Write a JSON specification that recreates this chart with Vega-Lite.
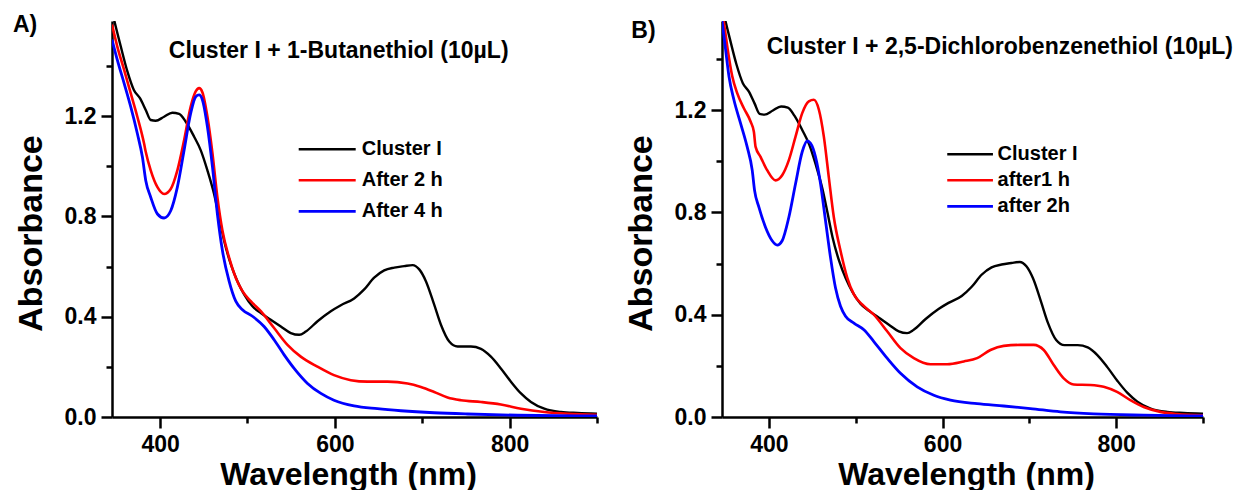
{
  "$schema": "https://vega.github.io/schema/vega-lite/v6.json",
  "background": "white",
  "padding": {"left": 12, "top": 13, "right": 5, "bottom": 0},
  "spacing": 25,
  "config": {
    "view": {"stroke": null},
    "font": "Liberation Sans",
    "axis": {
      "grid": false,
      "domainColor": "black",
      "domainWidth": 2.5,
      "tickColor": "black",
      "tickWidth": 2.5,
      "labelFont": "Liberation Sans",
      "labelFontWeight": "bold",
      "labelFontSize": 23,
      "labelColor": "black",
      "labelPadding": 5,
      "titleFont": "Liberation Sans",
      "titleFontWeight": "bold",
      "titleColor": "black"
    },
    "legend": {
      "title": null,
      "orient": "none",
      "symbolType": "stroke",
      "symbolStrokeWidth": 3,
      "clipHeight": 20,
      "labelFont": "Liberation Sans",
      "labelFontWeight": "bold",
      "labelFontSize": 20,
      "labelColor": "black",
      "padding": 0
    }
  },
  "datasets": {
    "specA": [
      {"series": "Cluster I", "nm": 345, "abs": 1.62},
      {"series": "Cluster I", "nm": 347.3, "abs": 1.586},
      {"series": "Cluster I", "nm": 355, "abs": 1.479},
      {"series": "Cluster I", "nm": 362.6, "abs": 1.379},
      {"series": "Cluster I", "nm": 370, "abs": 1.305},
      {"series": "Cluster I", "nm": 377, "abs": 1.272},
      {"series": "Cluster I", "nm": 383.6, "abs": 1.225},
      {"series": "Cluster I", "nm": 389.3, "abs": 1.185},
      {"series": "Cluster I", "nm": 395, "abs": 1.182},
      {"series": "Cluster I", "nm": 404.6, "abs": 1.198},
      {"series": "Cluster I", "nm": 414, "abs": 1.214},
      {"series": "Cluster I", "nm": 421.8, "abs": 1.209},
      {"series": "Cluster I", "nm": 429.4, "abs": 1.178},
      {"series": "Cluster I", "nm": 439, "abs": 1.118},
      {"series": "Cluster I", "nm": 446.6, "abs": 1.064},
      {"series": "Cluster I", "nm": 454.2, "abs": 0.984},
      {"series": "Cluster I", "nm": 461.8, "abs": 0.89},
      {"series": "Cluster I", "nm": 467.6, "abs": 0.797},
      {"series": "Cluster I", "nm": 473.3, "abs": 0.703},
      {"series": "Cluster I", "nm": 481, "abs": 0.609},
      {"series": "Cluster I", "nm": 488.5, "abs": 0.542},
      {"series": "Cluster I", "nm": 496.2, "abs": 0.489},
      {"series": "Cluster I", "nm": 505.7, "abs": 0.442},
      {"series": "Cluster I", "nm": 515.3, "abs": 0.415},
      {"series": "Cluster I", "nm": 526.7, "abs": 0.388},
      {"series": "Cluster I", "nm": 538.2, "abs": 0.361},
      {"series": "Cluster I", "nm": 549.6, "abs": 0.335},
      {"series": "Cluster I", "nm": 559.2, "abs": 0.328},
      {"series": "Cluster I", "nm": 566.8, "abs": 0.341},
      {"series": "Cluster I", "nm": 580.2, "abs": 0.382},
      {"series": "Cluster I", "nm": 595.4, "abs": 0.422},
      {"series": "Cluster I", "nm": 606.9, "abs": 0.446},
      {"series": "Cluster I", "nm": 622.1, "abs": 0.473},
      {"series": "Cluster I", "nm": 633.6, "abs": 0.509},
      {"series": "Cluster I", "nm": 645, "abs": 0.556},
      {"series": "Cluster I", "nm": 656.5, "abs": 0.585},
      {"series": "Cluster I", "nm": 668, "abs": 0.596},
      {"series": "Cluster I", "nm": 679.4, "abs": 0.602},
      {"series": "Cluster I", "nm": 689, "abs": 0.606},
      {"series": "Cluster I", "nm": 696.6, "abs": 0.589},
      {"series": "Cluster I", "nm": 704.2, "abs": 0.542},
      {"series": "Cluster I", "nm": 713.7, "abs": 0.448},
      {"series": "Cluster I", "nm": 721.4, "abs": 0.368},
      {"series": "Cluster I", "nm": 730.9, "abs": 0.301},
      {"series": "Cluster I", "nm": 740.5, "abs": 0.281},
      {"series": "Cluster I", "nm": 755.7, "abs": 0.281},
      {"series": "Cluster I", "nm": 767.2, "abs": 0.272},
      {"series": "Cluster I", "nm": 778.6, "abs": 0.241},
      {"series": "Cluster I", "nm": 790, "abs": 0.194},
      {"series": "Cluster I", "nm": 801.5, "abs": 0.141},
      {"series": "Cluster I", "nm": 813, "abs": 0.094},
      {"series": "Cluster I", "nm": 824.4, "abs": 0.06},
      {"series": "Cluster I", "nm": 839.7, "abs": 0.033},
      {"series": "Cluster I", "nm": 858.8, "abs": 0.02},
      {"series": "Cluster I", "nm": 877.9, "abs": 0.016},
      {"series": "Cluster I", "nm": 900, "abs": 0.013},
      {"series": "After 2 h", "nm": 345, "abs": 1.566},
      {"series": "After 2 h", "nm": 351, "abs": 1.479},
      {"series": "After 2 h", "nm": 358.8, "abs": 1.386},
      {"series": "After 2 h", "nm": 366.4, "abs": 1.292},
      {"series": "After 2 h", "nm": 374, "abs": 1.198},
      {"series": "After 2 h", "nm": 381.7, "abs": 1.091},
      {"series": "After 2 h", "nm": 383.6, "abs": 1.058},
      {"series": "After 2 h", "nm": 389.3, "abs": 0.984},
      {"series": "After 2 h", "nm": 397, "abs": 0.917},
      {"series": "After 2 h", "nm": 404.6, "abs": 0.89},
      {"series": "After 2 h", "nm": 412.2, "abs": 0.91},
      {"series": "After 2 h", "nm": 419.8, "abs": 0.984},
      {"series": "After 2 h", "nm": 427.5, "abs": 1.104},
      {"series": "After 2 h", "nm": 435, "abs": 1.238},
      {"series": "After 2 h", "nm": 440.8, "abs": 1.299},
      {"series": "After 2 h", "nm": 444.7, "abs": 1.312},
      {"series": "After 2 h", "nm": 448.5, "abs": 1.295},
      {"series": "After 2 h", "nm": 454.2, "abs": 1.198},
      {"series": "After 2 h", "nm": 460, "abs": 1.051},
      {"series": "After 2 h", "nm": 465.6, "abs": 0.877},
      {"series": "After 2 h", "nm": 471.4, "abs": 0.743},
      {"series": "After 2 h", "nm": 479, "abs": 0.636},
      {"series": "After 2 h", "nm": 486.6, "abs": 0.556},
      {"series": "After 2 h", "nm": 494.3, "abs": 0.502},
      {"series": "After 2 h", "nm": 503.8, "abs": 0.462},
      {"series": "After 2 h", "nm": 515.3, "abs": 0.422},
      {"series": "After 2 h", "nm": 530.5, "abs": 0.355},
      {"series": "After 2 h", "nm": 545.8, "abs": 0.288},
      {"series": "After 2 h", "nm": 561, "abs": 0.241},
      {"series": "After 2 h", "nm": 580, "abs": 0.201},
      {"series": "After 2 h", "nm": 599, "abs": 0.167},
      {"series": "After 2 h", "nm": 618.3, "abs": 0.147},
      {"series": "After 2 h", "nm": 637.4, "abs": 0.141},
      {"series": "After 2 h", "nm": 660.3, "abs": 0.141},
      {"series": "After 2 h", "nm": 683.2, "abs": 0.134},
      {"series": "After 2 h", "nm": 698.5, "abs": 0.12},
      {"series": "After 2 h", "nm": 713.7, "abs": 0.1},
      {"series": "After 2 h", "nm": 729, "abs": 0.078},
      {"series": "After 2 h", "nm": 744.3, "abs": 0.067},
      {"series": "After 2 h", "nm": 767.2, "abs": 0.06},
      {"series": "After 2 h", "nm": 790, "abs": 0.05},
      {"series": "After 2 h", "nm": 813, "abs": 0.033},
      {"series": "After 2 h", "nm": 839.7, "abs": 0.02},
      {"series": "After 2 h", "nm": 866.4, "abs": 0.013},
      {"series": "After 2 h", "nm": 900, "abs": 0.009},
      {"series": "After 4 h", "nm": 345, "abs": 1.506},
      {"series": "After 4 h", "nm": 351, "abs": 1.426},
      {"series": "After 4 h", "nm": 358.8, "abs": 1.332},
      {"series": "After 4 h", "nm": 366.4, "abs": 1.238},
      {"series": "After 4 h", "nm": 374, "abs": 1.131},
      {"series": "After 4 h", "nm": 379.8, "abs": 1.037},
      {"series": "After 4 h", "nm": 383.6, "abs": 0.944},
      {"series": "After 4 h", "nm": 389.3, "abs": 0.877},
      {"series": "After 4 h", "nm": 397, "abs": 0.81},
      {"series": "After 4 h", "nm": 404.6, "abs": 0.794},
      {"series": "After 4 h", "nm": 412.2, "abs": 0.823},
      {"series": "After 4 h", "nm": 419.8, "abs": 0.917},
      {"series": "After 4 h", "nm": 427.5, "abs": 1.064},
      {"series": "After 4 h", "nm": 435, "abs": 1.211},
      {"series": "After 4 h", "nm": 440.8, "abs": 1.278},
      {"series": "After 4 h", "nm": 444.7, "abs": 1.285},
      {"series": "After 4 h", "nm": 448.5, "abs": 1.265},
      {"series": "After 4 h", "nm": 454.2, "abs": 1.158},
      {"series": "After 4 h", "nm": 460, "abs": 0.997},
      {"series": "After 4 h", "nm": 465.6, "abs": 0.81},
      {"series": "After 4 h", "nm": 471.4, "abs": 0.663},
      {"series": "After 4 h", "nm": 479, "abs": 0.542},
      {"series": "After 4 h", "nm": 486.6, "abs": 0.462},
      {"series": "After 4 h", "nm": 494.3, "abs": 0.428},
      {"series": "After 4 h", "nm": 505.7, "abs": 0.402},
      {"series": "After 4 h", "nm": 519, "abs": 0.361},
      {"series": "After 4 h", "nm": 530.5, "abs": 0.308},
      {"series": "After 4 h", "nm": 542, "abs": 0.248},
      {"series": "After 4 h", "nm": 553.4, "abs": 0.194},
      {"series": "After 4 h", "nm": 568.7, "abs": 0.134},
      {"series": "After 4 h", "nm": 584, "abs": 0.094},
      {"series": "After 4 h", "nm": 599, "abs": 0.067},
      {"series": "After 4 h", "nm": 622, "abs": 0.044},
      {"series": "After 4 h", "nm": 648.8, "abs": 0.033},
      {"series": "After 4 h", "nm": 675.6, "abs": 0.025},
      {"series": "After 4 h", "nm": 713.7, "abs": 0.017},
      {"series": "After 4 h", "nm": 751.9, "abs": 0.012},
      {"series": "After 4 h", "nm": 809, "abs": 0.007},
      {"series": "After 4 h", "nm": 900, "abs": 0.004}
    ],
    "specB": [
      {"series": "Cluster I", "nm": 345, "abs": 1.62},
      {"series": "Cluster I", "nm": 347.3, "abs": 1.586},
      {"series": "Cluster I", "nm": 355, "abs": 1.479},
      {"series": "Cluster I", "nm": 362.6, "abs": 1.379},
      {"series": "Cluster I", "nm": 370, "abs": 1.305},
      {"series": "Cluster I", "nm": 377, "abs": 1.272},
      {"series": "Cluster I", "nm": 383.6, "abs": 1.225},
      {"series": "Cluster I", "nm": 389.3, "abs": 1.185},
      {"series": "Cluster I", "nm": 395, "abs": 1.182},
      {"series": "Cluster I", "nm": 404.6, "abs": 1.198},
      {"series": "Cluster I", "nm": 414, "abs": 1.214},
      {"series": "Cluster I", "nm": 421.8, "abs": 1.209},
      {"series": "Cluster I", "nm": 429.4, "abs": 1.178},
      {"series": "Cluster I", "nm": 439, "abs": 1.118},
      {"series": "Cluster I", "nm": 446.6, "abs": 1.064},
      {"series": "Cluster I", "nm": 454.2, "abs": 0.984},
      {"series": "Cluster I", "nm": 461.8, "abs": 0.89},
      {"series": "Cluster I", "nm": 467.6, "abs": 0.797},
      {"series": "Cluster I", "nm": 473.3, "abs": 0.703},
      {"series": "Cluster I", "nm": 481, "abs": 0.609},
      {"series": "Cluster I", "nm": 488.5, "abs": 0.542},
      {"series": "Cluster I", "nm": 496.2, "abs": 0.489},
      {"series": "Cluster I", "nm": 505.7, "abs": 0.442},
      {"series": "Cluster I", "nm": 515.3, "abs": 0.415},
      {"series": "Cluster I", "nm": 526.7, "abs": 0.388},
      {"series": "Cluster I", "nm": 538.2, "abs": 0.361},
      {"series": "Cluster I", "nm": 549.6, "abs": 0.335},
      {"series": "Cluster I", "nm": 559.2, "abs": 0.328},
      {"series": "Cluster I", "nm": 566.8, "abs": 0.341},
      {"series": "Cluster I", "nm": 580.2, "abs": 0.382},
      {"series": "Cluster I", "nm": 595.4, "abs": 0.422},
      {"series": "Cluster I", "nm": 606.9, "abs": 0.446},
      {"series": "Cluster I", "nm": 622.1, "abs": 0.473},
      {"series": "Cluster I", "nm": 633.6, "abs": 0.509},
      {"series": "Cluster I", "nm": 645, "abs": 0.556},
      {"series": "Cluster I", "nm": 656.5, "abs": 0.585},
      {"series": "Cluster I", "nm": 668, "abs": 0.596},
      {"series": "Cluster I", "nm": 679.4, "abs": 0.602},
      {"series": "Cluster I", "nm": 689, "abs": 0.606},
      {"series": "Cluster I", "nm": 696.6, "abs": 0.589},
      {"series": "Cluster I", "nm": 704.2, "abs": 0.542},
      {"series": "Cluster I", "nm": 713.7, "abs": 0.448},
      {"series": "Cluster I", "nm": 721.4, "abs": 0.368},
      {"series": "Cluster I", "nm": 730.9, "abs": 0.301},
      {"series": "Cluster I", "nm": 740.5, "abs": 0.281},
      {"series": "Cluster I", "nm": 755.7, "abs": 0.281},
      {"series": "Cluster I", "nm": 767.2, "abs": 0.272},
      {"series": "Cluster I", "nm": 778.6, "abs": 0.241},
      {"series": "Cluster I", "nm": 790, "abs": 0.194},
      {"series": "Cluster I", "nm": 801.5, "abs": 0.141},
      {"series": "Cluster I", "nm": 813, "abs": 0.094},
      {"series": "Cluster I", "nm": 824.4, "abs": 0.06},
      {"series": "Cluster I", "nm": 839.7, "abs": 0.033},
      {"series": "Cluster I", "nm": 858.8, "abs": 0.02},
      {"series": "Cluster I", "nm": 877.9, "abs": 0.016},
      {"series": "Cluster I", "nm": 900, "abs": 0.013},
      {"series": "after1 h", "nm": 345.5, "abs": 1.6},
      {"series": "after1 h", "nm": 348.2, "abs": 1.542},
      {"series": "after1 h", "nm": 352, "abs": 1.45},
      {"series": "after1 h", "nm": 357.8, "abs": 1.332},
      {"series": "after1 h", "nm": 363.5, "abs": 1.266},
      {"series": "after1 h", "nm": 371.2, "abs": 1.207},
      {"series": "after1 h", "nm": 378.9, "abs": 1.155},
      {"series": "after1 h", "nm": 382.7, "abs": 1.115},
      {"series": "after1 h", "nm": 384.7, "abs": 1.056},
      {"series": "after1 h", "nm": 390.4, "abs": 1.017},
      {"series": "after1 h", "nm": 398, "abs": 0.965},
      {"series": "after1 h", "nm": 407.7, "abs": 0.925},
      {"series": "after1 h", "nm": 415.3, "abs": 0.945},
      {"series": "after1 h", "nm": 423, "abs": 1.004},
      {"series": "after1 h", "nm": 430.7, "abs": 1.096},
      {"series": "after1 h", "nm": 438.4, "abs": 1.188},
      {"series": "after1 h", "nm": 446, "abs": 1.234},
      {"series": "after1 h", "nm": 451.8, "abs": 1.24},
      {"series": "after1 h", "nm": 457.6, "abs": 1.201},
      {"series": "after1 h", "nm": 463.3, "abs": 1.096},
      {"series": "after1 h", "nm": 469, "abs": 0.938},
      {"series": "after1 h", "nm": 474.8, "abs": 0.781},
      {"series": "after1 h", "nm": 482.5, "abs": 0.65},
      {"series": "after1 h", "nm": 490.2, "abs": 0.545},
      {"series": "after1 h", "nm": 497.9, "abs": 0.479},
      {"series": "after1 h", "nm": 507.4, "abs": 0.44},
      {"series": "after1 h", "nm": 520.9, "abs": 0.4},
      {"series": "after1 h", "nm": 536.2, "abs": 0.335},
      {"series": "after1 h", "nm": 551.6, "abs": 0.269},
      {"series": "after1 h", "nm": 566.9, "abs": 0.23},
      {"series": "after1 h", "nm": 586, "abs": 0.206},
      {"series": "after1 h", "nm": 605.3, "abs": 0.206},
      {"series": "after1 h", "nm": 624.5, "abs": 0.217},
      {"series": "after1 h", "nm": 639.8, "abs": 0.23},
      {"series": "after1 h", "nm": 655.2, "abs": 0.262},
      {"series": "after1 h", "nm": 670.5, "abs": 0.278},
      {"series": "after1 h", "nm": 689.7, "abs": 0.282},
      {"series": "after1 h", "nm": 705, "abs": 0.282},
      {"series": "after1 h", "nm": 716.6, "abs": 0.262},
      {"series": "after1 h", "nm": 728.1, "abs": 0.203},
      {"series": "after1 h", "nm": 739.6, "abs": 0.151},
      {"series": "after1 h", "nm": 751.1, "abs": 0.127},
      {"series": "after1 h", "nm": 770.3, "abs": 0.125},
      {"series": "after1 h", "nm": 785.6, "abs": 0.118},
      {"series": "after1 h", "nm": 801, "abs": 0.098},
      {"series": "after1 h", "nm": 816.3, "abs": 0.066},
      {"series": "after1 h", "nm": 831.7, "abs": 0.039},
      {"series": "after1 h", "nm": 850.9, "abs": 0.02},
      {"series": "after1 h", "nm": 870, "abs": 0.012},
      {"series": "after1 h", "nm": 900, "abs": 0.007},
      {"series": "after 2h", "nm": 346, "abs": 1.55},
      {"series": "after 2h", "nm": 350.1, "abs": 1.437},
      {"series": "after 2h", "nm": 354, "abs": 1.332},
      {"series": "after 2h", "nm": 359.7, "abs": 1.24},
      {"series": "after 2h", "nm": 367.4, "abs": 1.148},
      {"series": "after 2h", "nm": 375, "abs": 1.056},
      {"series": "after 2h", "nm": 380.8, "abs": 0.965},
      {"series": "after 2h", "nm": 383.5, "abs": 0.886},
      {"series": "after 2h", "nm": 388.5, "abs": 0.82},
      {"series": "after 2h", "nm": 396.2, "abs": 0.741},
      {"series": "after 2h", "nm": 403.8, "abs": 0.689},
      {"series": "after 2h", "nm": 409.6, "abs": 0.672},
      {"series": "after 2h", "nm": 415.3, "abs": 0.689},
      {"series": "after 2h", "nm": 423, "abs": 0.781},
      {"series": "after 2h", "nm": 430.7, "abs": 0.912},
      {"series": "after 2h", "nm": 438.4, "abs": 1.037},
      {"series": "after 2h", "nm": 444.1, "abs": 1.079},
      {"series": "after 2h", "nm": 448, "abs": 1.07},
      {"series": "after 2h", "nm": 453.7, "abs": 1.017},
      {"series": "after 2h", "nm": 459.5, "abs": 0.912},
      {"series": "after 2h", "nm": 465.2, "abs": 0.768},
      {"series": "after 2h", "nm": 471, "abs": 0.623},
      {"series": "after 2h", "nm": 476.7, "abs": 0.505},
      {"series": "after 2h", "nm": 482.5, "abs": 0.433},
      {"series": "after 2h", "nm": 488.3, "abs": 0.394},
      {"series": "after 2h", "nm": 497.9, "abs": 0.367},
      {"series": "after 2h", "nm": 509.4, "abs": 0.341},
      {"series": "after 2h", "nm": 520.9, "abs": 0.295},
      {"series": "after 2h", "nm": 536.2, "abs": 0.23},
      {"series": "after 2h", "nm": 551.6, "abs": 0.171},
      {"series": "after 2h", "nm": 570.8, "abs": 0.118},
      {"series": "after 2h", "nm": 590, "abs": 0.085},
      {"series": "after 2h", "nm": 609.1, "abs": 0.066},
      {"series": "after 2h", "nm": 639.8, "abs": 0.052},
      {"series": "after 2h", "nm": 670.5, "abs": 0.043},
      {"series": "after 2h", "nm": 701.2, "abs": 0.033},
      {"series": "after 2h", "nm": 735.8, "abs": 0.02},
      {"series": "after 2h", "nm": 774.1, "abs": 0.012},
      {"series": "after 2h", "nm": 831.7, "abs": 0.007},
      {"series": "after 2h", "nm": 900, "abs": 0.004}
    ],
    "letterA": [{"text": "A)", "nm": 231.6, "abs": 1.538}],
    "titleA": [{"text": "Cluster I + 1-Butanethiol (10µL)", "nm": 604.4, "abs": 1.433}],
    "letterB": [{"text": "B)", "nm": 241.5, "abs": 1.483}],
    "titleB": [{"text": "Cluster I + 2,5-Dichlorobenzenethiol (10µL)", "nm": 666, "abs": 1.418}]
  },
  "resolve": {
    "scale": {"x": "independent", "y": "independent", "color": "independent", "strokeWidth": "independent"},
    "axis": {"x": "independent", "y": "independent"},
    "legend": {"color": "independent"}
  },
  "hconcat": [
    {
      "width": 485,
      "height": 396,
      "resolve": {"axis": {"x": "independent", "y": "independent"}},
      "layer": [
        {
          "data": {"name": "specA"},
          "mark": {"type": "line", "clip": true, "interpolate": "monotone"},
          "encoding": {
            "x": {"field": "nm", "type": "quantitative",
                  "scale": {"domain": [345, 900], "nice": false, "zero": false},
                  "axis": {"orient": "bottom", "values": [400, 500, 600, 700, 800, 900], "format": "d",
                           "labelExpr": "datum.value % 200 == 0 ? datum.label : ''",
                           "tickSize": {"condition": {"test": "datum.value % 200 == 0", "value": 11}, "value": 6},
                           "title": "Wavelength (nm)", "titleFontSize": 32, "titlePadding": 3, "titleX": 236}},
            "y": {"field": "abs", "type": "quantitative",
                  "scale": {"domain": [0, 1.58], "nice": false, "zero": false},
                  "axis": {"orient": "left", "values": [0, 0.2, 0.4, 0.6, 0.8, 1.0, 1.2, 1.4],
                           "labelExpr": "round(datum.value * 10) % 4 == 0 ? format(datum.value, '.1f') : ''",
                           "tickSize": {"condition": {"test": "round(datum.value * 10) % 4 == 0", "value": 11}, "value": 6},
                           "title": "Absorbance", "titleFontSize": 34, "titlePadding": 16, "titleY": 212}},
            "color": {"field": "series", "type": "nominal",
                      "scale": {"domain": ["Cluster I", "After 2 h", "After 4 h"], "range": ["#000000", "#ff0000", "#0000ff"]},
                      "legend": {"legendX": 185.2, "legendY": 118.3, "symbolSize": 3249, "rowPadding": 11, "labelOffset": 4.5}},
            "strokeWidth": {"field": "series", "type": "nominal",
                            "scale": {"domain": ["Cluster I", "After 2 h", "After 4 h"], "range": [2.4, 2.8, 2.8]},
                            "legend": null}
          }
        },
        {
          "data": {"name": "letterA"},
          "mark": {"type": "text", "align": "left", "baseline": "alphabetic", "fontSize": 23, "fontWeight": "bold", "font": "Liberation Sans", "color": "black"},
          "encoding": {
            "x": {"field": "nm", "type": "quantitative", "axis": null},
            "y": {"field": "abs", "type": "quantitative", "axis": null},
            "text": {"field": "text"}
          }
        },
        {
          "data": {"name": "titleA"},
          "mark": {"type": "text", "align": "center", "baseline": "alphabetic", "fontSize": 23, "fontWeight": "bold", "font": "Liberation Sans", "color": "black"},
          "encoding": {
            "x": {"field": "nm", "type": "quantitative", "axis": null},
            "y": {"field": "abs", "type": "quantitative", "axis": null},
            "text": {"field": "text"}
          }
        }
      ]
    },
    {
      "width": 481,
      "height": 396,
      "resolve": {"axis": {"x": "independent", "y": "independent"}},
      "layer": [
        {
          "data": {"name": "specB"},
          "mark": {"type": "line", "clip": true, "interpolate": "monotone"},
          "encoding": {
            "x": {"field": "nm", "type": "quantitative",
                  "scale": {"domain": [346, 900], "nice": false, "zero": false},
                  "axis": {"orient": "bottom", "values": [400, 500, 600, 700, 800, 900], "format": "d",
                           "labelExpr": "datum.value % 200 == 0 ? datum.label : ''",
                           "tickSize": {"condition": {"test": "datum.value % 200 == 0", "value": 11}, "value": 6},
                           "title": "Wavelength (nm)", "titleFontSize": 32, "titlePadding": 3, "titleX": 244}},
            "y": {"field": "abs", "type": "quantitative",
                  "scale": {"domain": [0, 1.548], "nice": false, "zero": false},
                  "axis": {"orient": "left", "values": [0, 0.2, 0.4, 0.6, 0.8, 1.0, 1.2, 1.4],
                           "labelExpr": "round(datum.value * 10) % 4 == 0 ? format(datum.value, '.1f') : ''",
                           "tickSize": {"condition": {"test": "round(datum.value * 10) % 4 == 0", "value": 11}, "value": 6},
                           "title": "Absorbance", "titleFontSize": 34, "titlePadding": 16, "titleY": 212}},
            "color": {"field": "series", "type": "nominal",
                      "scale": {"domain": ["Cluster I", "after1 h", "after 2h"], "range": ["#000000", "#ff0000", "#0000ff"]},
                      "legend": {"legendX": 223.6, "legendY": 123.3, "symbolSize": 2088, "rowPadding": 6, "labelOffset": 3}},
            "strokeWidth": {"field": "series", "type": "nominal",
                            "scale": {"domain": ["Cluster I", "after1 h", "after 2h"], "range": [2.4, 2.8, 2.8]},
                            "legend": null}
          }
        },
        {
          "data": {"name": "letterB"},
          "mark": {"type": "text", "align": "left", "baseline": "alphabetic", "fontSize": 23, "fontWeight": "bold", "font": "Liberation Sans", "color": "black"},
          "encoding": {
            "x": {"field": "nm", "type": "quantitative", "axis": null},
            "y": {"field": "abs", "type": "quantitative", "axis": null},
            "text": {"field": "text"}
          }
        },
        {
          "data": {"name": "titleB"},
          "mark": {"type": "text", "align": "center", "baseline": "alphabetic", "fontSize": 23, "fontWeight": "bold", "font": "Liberation Sans", "color": "black"},
          "encoding": {
            "x": {"field": "nm", "type": "quantitative", "axis": null},
            "y": {"field": "abs", "type": "quantitative", "axis": null},
            "text": {"field": "text"}
          }
        }
      ]
    }
  ]
}
